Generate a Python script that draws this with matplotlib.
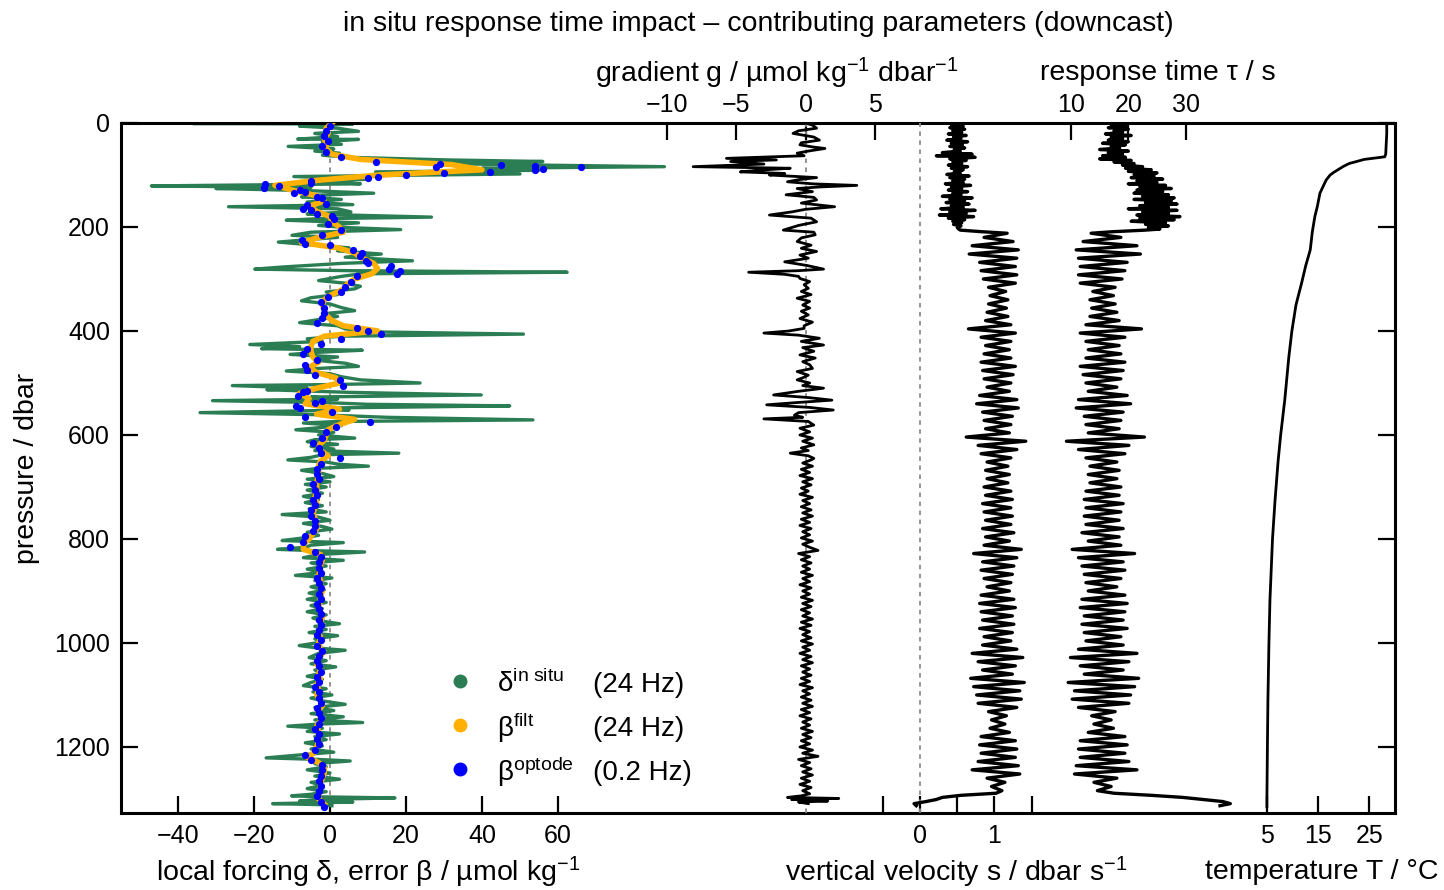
import numpy as np
import matplotlib
matplotlib.use('Agg')
import matplotlib.pyplot as plt
from matplotlib.transforms import blended_transform_factory

plt.rcParams['font.family'] = ['Liberation Sans', 'DejaVu Sans']
plt.rcParams['mathtext.fontset'] = 'custom'
plt.rcParams['mathtext.rm'] = 'Liberation Sans'
plt.rcParams['mathtext.it'] = 'Liberation Sans'
plt.rcParams['font.size'] = 18

LABEL_FS = 20.5
TICK_FS = 18

# ---- local forcing delta (24 Hz), (pressure, value) ----
delta_insitu = [
    (0, 0), (1, -36), (2, 6), (4, -3), (6, -8), (10, 2), (16, 7.5), (20, -4), (26, 2),
    (31, -8.5), (31.5, 7.5), (36, -2), (41, 3), (45, -11), (50, 1), (54, -4), (58, 2.5),
    (62, -2), (66, 5), (68, 15), (71, 31), (74, 56), (77, 25), (80, 45), (84, 88), (87, 40),
    (91, 55), (94, 12), (98, 50), (103, -9.5), (108, 10), (113, -2), (117, 8), (121, -47),
    (124, -5), (126, -30), (130, -6), (135, 11.5), (139, -4), (142, -7.5), (147, 3),
    (152, -6), (157, 6), (161, -26.7), (165, 2), (171, 5.5), (175, -6), (181, 26.7),
    (184, -3), (187, -11.5), (192, 7.5), (197, -3), (201, 4), (205, 18.6), (210, -5),
    (216, -10), (220, 2), (225, -7), (229, -13.6), (235, -4), (240, 5), (246, 2),
    (252, 13.5), (258, 4), (265, 21.7), (270, 3), (277, -12.6), (281, -19.8), (284, 5),
    (287, 62.4), (290, 8), (295, 3), (303, -3), (308, 4), (314, 8), (319, 6.5), (325, -1),
    (330, 2), (336, -5), (342, -7.5), (348, 0), (355, 3), (361, 6.5), (367, -2), (372, 2),
    (378, -3), (384, -8), (390, 2), (396, 4), (402, 14), (406, 50.9), (410, 3), (415, -6),
    (420, -2), (426, -21.1), (430, -8), (434, -18), (437, 8.5), (441, -3), (445, -10.5),
    (450, 2), (456, -4), (462, 4), (468, 7.5), (472, -3), (477, -11.5), (482, 0), (488, 3),
    (494, 8), (500, 23.7), (503, 0), (505, -25.7), (510, -6), (513, -16.6), (518, 5),
    (523, 39.8), (527, -5), (531, 2), (534, -30.9), (538, 0), (541, 10), (544, 47.3),
    (548, 0), (552, 5), (557, -34.2), (561, -3), (566, 15), (571, 53.4), (574, 2),
    (577, -7), (582, 3), (586, -3), (590, -9), (595, 1), (600, -3), (606, 6.5), (609, -4),
    (613, -6), (618, 2), (622, -5), (627, 1), (630, -4), (635, 18.1), (638, -2), (643, -5),
    (648, -11.1), (652, -1), (656, 2), (660, 10.1), (664, -3), (668, -7.5), (674, -2),
    (680, 1), (685, -6), (690, 0), (695, -6.5), (700, -1), (706, -6), (712, -2), (718, -7),
    (724, -3), (730, -6.5), (736, -2), (742, -5.5), (748, -1), (753, -12.6), (758, -3),
    (764, 0), (770, -7), (776, -2), (781, 0.5), (787, -6), (793, -3), (798, -7),
    (803, -12.6), (807, 3.5), (812, -5), (816, -6.5), (820, -13.8), (823, -2), (825, 9.1),
    (830, -3), (836, -7), (841, 3.5), (846, -5), (852, -1), (858, -6), (864, -2),
    (870, -9.1), (875, 0.5), (880, -4), (886, -1), (892, -5), (898, -1.5), (904, -5.5),
    (910, -2), (916, -6), (922, -1), (928, -5), (934, -2), (940, -6), (946, -1),
    (952, -4.5), (958, -2), (963, 2.5), (968, -4), (974, -1), (980, -5.5), (986, 2),
    (992, -4), (998, -2), (1005, -8.1), (1010, -3), (1014, 4), (1020, -3), (1028, -5.5),
    (1034, -1), (1040, -5), (1046, 1.5), (1052, -4), (1058, -2), (1064, -6), (1070, -2),
    (1076, -5), (1082, -7), (1088, -1), (1094, -4.5), (1100, 0.5), (1106, -5),
    (1112, -1.5), (1118, 4), (1124, -4), (1130, 1), (1136, -5), (1142, 3.5), (1148, -4),
    (1153, 8.6), (1156, -3), (1160, -11.1), (1164, -2), (1170, -6), (1175, 2.5),
    (1180, -4), (1186, -1), (1192, -6.5), (1198, -2), (1204, -5), (1210, 1), (1216, -9),
    (1221, -16.8), (1224, -3), (1227, 5.3), (1232, -4), (1238, -1), (1244, -6), (1250, 0),
    (1256, -4), (1262, 2.5), (1268, -5), (1274, -2), (1280, -6), (1286, -1), (1291, -5),
    (1294, -10.1), (1296, -2), (1298, 17.1), (1301, -3), (1304, -8), (1306, 6),
    (1309, -15.1), (1311, -2), (1313, 0.5),
]

# ---- filtered error beta (24 Hz), every 10 dbar from 0 ----
beta_filt = [
    0.5, -1, -0.5, -1.5, -1, -1, 0.5, 8, 32, 40,
    13, -3, -14.5, -9.5, -3.5, -1.5, -5.5, -3.5, 0, 0.5,
    2.5, 3.5, -3, -7.5, 2, 6.5, 8.5, 11.5, 12.5, 11,
    6.5, 4.5, 3.5, 0.5, -1.5, -2, -1.5, -1, 0.5, 3.5,
    12.5, -1.5, -4.5, -5, -5, -4.5, -3, -5.5, -3.5, 1.5,
    2.5, -3.5, -8, -5.5, -6.5, 2.5, -3.5, 6.5, 2.5, -0.5,
    -1, -1.5, -3, -2.5, -0.5, -2.5, -3, -3, -3, -3.5,
    -3.5, -3.5, -4, -3.5, -4, -4.5, -4, -3.5, -3.5, -4.5,
    -5.5, -7, -7, -2.5, -2, -2.5, -2.5, -3, -2.5, -2.5,
    -2, -2.5, -2.5, -3, -2.5, -2, -2.5, -2.5, -3, -2.5,
    -3, -2.5, -2, -3, -3.5, -2.5, -3, -2.5, -3.5, -3,
    -3.5, -2.5, -2, -3, -2.5, -2.5, -3.5, -3, -3, -3,
    -3.5, -4, -6, -3, -1.5, -1.5, -2, -2.5, -2.5, -3,
    -3, -1.5,
]

# ---- optode error beta (0.2 Hz), every 10 dbar from 5 ----
beta_optode = [
    0, -1, -1.5, -0.5, -2, -1, 3, 12, 28, 42,
    10, -5, -17.5, -9.5, -2, -1, -7, -3.5, 1, -0.5,
    3, -2, -7.5, 0, 6, 8, 9.5, 16, 18.5, 7,
    5.5, 4, 3, -0.5, -2.5, -1.5, -1.5, -2, -3.5, 7,
    13.5, 3, -2.5, -6, -7, -3.5, -6.5, -6, -4, 2.5,
    3.5, -6, -8.5, -2, -9, 0.5, -6.5, 10.5, 1.5, -1,
    -2, -4.5, -3, -2.5, 2.5, -2.5, -3.5, -3.5, -3, -4.5,
    -4, -3.5, -4.5, -4, -5, -5, -4, -4, -4.5, -6.5,
    -7, -10.5, -4, -2.5, -3, -3, -2.5, -3.5, -3, -2.5,
    -3, -2.5, -3.5, -3, -2.5, -3, -2.5, -3, -3.5, -2.5,
    -3.5, -2, -3, -3.5, -3, -2.5, -3.5, -3, -4, -3,
    -3, -2.5, -3.5, -3, -2.5, -3, -4, -3, -3.5, -3,
    -4, -6.5, -5, -2, -2, -2.5, -3, -2.5, -3, -3.5,
    -2.5, -1.5,
]
beta_optode_extra = [
    (78, 29), (81, 45), (83, 54), (85, 66), (88, 56), (91, 54), (97, 30), (100, 20),
    (103, 12.5), (112, -5), (118, -17), (122, -13.5), (128, -8), (133, -6.5),
    (143, -3.5), (158, -6), (168, -5), (178, 0.5), (232, -6.5), (250, 8.5), (270, 10),
    (280, 15.5), (290, 17.5), (400, 10), (518, -7), (538, -4), (548, -8),
]

# ---- oxygen gradient g ----
grad_upper = [
    (0, 0), (4, 0.5), (10, 0.8), (15, -0.5), (20, -0.9), (27, 0.6), (33, 1.0), (38, -0.3),
    (42, -0.4), (46, 0.5), (49, 1.4), (54, 0.2), (58, -0.6), (63, -0.1), (68, -5.7),
    (71, -2.1), (74, -5.4), (79, -3.0), (84, -8.1), (87, -1.1), (91, -3.5), (94, -4.7),
    (97, -1.5), (100, -2.6), (105, 0.8), (109, -0.5), (113, -1.3), (117, 0.5), (120, 3.7),
    (123, 1.0), (126, -0.6), (132, 0.5), (138, -1.4), (143, 0.6), (148, 0.8), (154, -0.3),
    (161, 2.1), (166, 0.0), (171, -1.0), (177, -2.6), (183, 0.4), (190, 0.8), (197, -0.5),
    (206, -1.6), (210, 0.6), (215, 0.7), (221, -0.3), (228, -0.6), (235, 0.4), (241, -0.3),
    (247, 0.8), (254, -0.4), (260, 0.2), (267, -1.5), (274, 0.1), (281, 1.3), (284, -0.5),
    (287, -4.1), (291, -1.5), (295, -0.5), (299, -0.4), (305, 0.3), (311, -0.1), (318, 0.2),
    (324, -0.3), (330, 0.4), (337, -0.6), (343, 0.3), (350, -0.2), (356, 0.3), (362, -0.3),
    (369, 0.2), (376, -0.4), (383, 0.5), (390, -0.1), (395, -0.1), (400, -1.2), (404, -3.0),
    (408, -0.5), (414, 1.0), (420, -0.3), (427, 1.3), (432, -0.2), (439, 0.6), (446, -0.4),
    (452, 0.7), (459, -0.2), (465, 0.3), (472, 0.5), (478, -0.6), (485, 0.2), (490, -0.2),
    (494, -0.6), (500, 0.3), (505, -0.2), (510, 1.3), (516, -0.5), (523, -2.3), (528, 0.2),
    (533, 1.9), (538, -0.8), (542, -2.8), (547, 0.3), (552, 2.0), (557, -0.5), (562, -0.8),
    (566, -0.2), (569, -3.0), (574, 0.2), (581, 0.6), (587, -0.4), (594, 0.3), (600, -0.4),
    (606, 0.5), (612, -0.2), (619, 0.6), (625, -0.3), (630, 0.2), (635, -1.1), (640, 0.2),
    (645, 0.6),
]
# every 6 dbar from 648
grad_deep = [
    0.4, -0.2, 0.5, -0.3, 0.3, -0.4, 0.5, -0.2, 0.4, -0.3, 0.2, -0.4,
    0.5, -0.2, 0.3, -0.3, 0.4, -0.2, 0.5, -0.3, 0.3, -0.4, 0.4, -0.2,
    0.3, -0.3, 0.5, -0.2, 0.3, 0.9, -0.5, 0.3, -0.3, 0.4, -0.2, 0.3,
    -0.3, 0.5, -0.2, 0.3, -0.4, 0.4, -0.2, 0.3, -0.3, 0.5, -0.2, 0.4,
    -0.3, 0.3, -0.2, 0.5, -0.3, 0.4, -0.4, 0.3, -0.2, 0.4, -0.3, 0.5,
    -0.2, 0.3, -0.4, 0.4, -0.2, 0.5, -0.3, 0.3, -0.2, 0.4, -0.3, 0.3,
    -0.4, 0.5, -0.2, 0.3, -0.3, 0.4, -0.2, 0.5, -0.3, 0.3, -0.4, 0.4,
    -0.2, 0.3, -0.3, 0.5, -0.2, 0.4, -0.3, 0.3, -0.4, 0.5, -0.2, 0.9,
    -0.5, 0.3, -0.3, 0.4, -0.2, 0.5, -0.3, 0.3, -0.4, 0.4, -0.2, 0.3,
]
grad_bottom = [(1294, -0.3), (1297, -1.3), (1299, 2.4), (1301, -1.0), (1304, 1.6),
               (1306, -0.5), (1309, 0.2)]

# ---- vertical velocity s ----
# every 3 dbar from 0
speed_upper = [
    0.48, 0.42, 0.58, 0.40, 0.60, 0.44, 0.56, 0.38, 0.62, 0.45, 0.55, 0.36, 0.64, 0.42,
    0.57, 0.40, 0.60, 0.46, 0.54, 0.30, 0.70, 0.22, 0.74, 0.40, 0.62, 0.44, 0.56, 0.38,
    0.64, 0.42, 0.58, 0.46, 0.54, 0.36, 0.66, 0.40, 0.60, 0.44, 0.58, 0.34, 0.68, 0.42,
    0.56, 0.38, 0.64, 0.44, 0.55, 0.30, 0.70, 0.40, 0.60, 0.35, 0.66, 0.42, 0.58, 0.28,
    0.74, 0.40, 0.62, 0.26, 0.72, 0.38, 0.60, 0.44, 0.56, 0.45, 0.55, 0.50, 0.52,
]
# every 8 dbar from 212
speed_deep = [
    1.17, 0.86, 1.25, 0.70, 1.32, 0.66, 1.30, 0.80, 1.28, 0.82,
    1.30, 0.85, 1.28, 0.92, 1.15, 0.94, 1.18, 0.92, 1.16, 0.90,
    1.18, 0.88, 1.22, 0.65, 1.28, 0.82, 1.22, 0.88, 1.20, 0.86,
    1.22, 0.82, 1.28, 0.84, 1.25, 0.86, 1.22, 0.90, 1.20, 0.80,
    1.30, 0.76, 1.32, 0.84, 1.24, 0.86, 1.22, 0.88, 1.20, 0.62,
    1.42, 0.78, 1.30, 0.82, 1.22, 0.90, 1.18, 0.88, 1.20, 0.90,
    1.18, 0.86, 1.22, 0.88, 1.24, 0.84, 1.22, 0.86, 1.24, 0.88,
    1.22, 0.84, 1.26, 0.88, 1.20, 0.86, 1.36, 0.72, 1.30, 0.84,
    1.26, 0.82, 1.24, 0.86, 1.22, 0.90, 1.20, 0.82, 1.26, 0.80,
    1.28, 0.82, 1.24, 0.84, 1.26, 0.80, 1.24, 0.86, 1.22, 0.84,
    1.30, 0.70, 1.38, 0.78, 1.28, 0.84, 1.24, 0.68, 1.40, 0.72,
    1.34, 0.76, 1.36, 0.78, 1.30, 0.92, 1.16, 0.96, 1.14, 0.94,
    1.20, 0.82, 1.28, 0.80, 1.30, 0.82, 1.28, 0.78, 1.32, 0.70,
    1.34, 0.90, 1.14, 0.96, 1.10,
]
speed_joint = [(206, 0.54), (209, 0.82)]
speed_bottom = [(1289, 1.02), (1293, 0.55), (1297, 0.30), (1301, 0.22), (1305, 0.08),
                (1309, -0.08), (1313, -0.05)]

# ---- response time tau ----
tau_upper = [
    18.5, 17.0, 19.5, 16.5, 20.0, 17.5, 19.0, 16.0, 20.5, 17.0, 19.0,
    16.5, 20.0, 15.5, 19.5, 17.0, 18.5, 15.0, 20.0, 16.5, 19.0, 15.5,
    19.5, 15.0, 20.5, 17.5, 21.0, 19.0, 22.5, 19.5, 24.0, 20.0, 25.0,
    21.0, 24.5, 20.5, 26.0, 21.5, 25.0, 20.0, 26.5, 22.0, 27.5, 21.5,
    26.0, 21.0, 27.0, 22.5, 28.0, 21.0, 27.5, 23.0, 28.5, 22.0, 27.0,
    20.0, 28.5, 22.5, 27.0, 21.5, 29.0, 22.0, 28.0, 20.5, 26.5, 23.0,
    27.0, 23.5, 25.5,
]
tau_deep = [
    13.5, 18.7, 12.1, 21.5, 10.9, 22.1, 11.3, 19.8, 11.6, 19.4,
    11.3, 18.9, 11.6, 17.7, 13.8, 17.4, 13.3, 17.7, 13.6, 18.0,
    13.3, 18.4, 12.6, 22.3, 11.6, 19.4, 12.6, 18.4, 13.0, 18.7,
    12.6, 19.4, 11.6, 19.1, 12.1, 18.7, 12.6, 18.0, 13.0, 19.8,
    11.3, 20.4, 10.9, 19.1, 12.3, 18.7, 12.6, 18.4, 13.0, 22.8,
    9.2, 20.1, 11.3, 19.4, 12.6, 18.0, 13.3, 18.4, 13.0, 18.0,
    13.3, 18.7, 12.6, 18.4, 12.3, 19.1, 12.6, 18.7, 12.3, 18.4,
    12.6, 19.1, 11.9, 18.4, 13.0, 18.7, 10.2, 21.1, 11.3, 19.1,
    11.9, 19.4, 12.3, 18.7, 12.6, 18.0, 13.0, 19.4, 11.9, 19.8,
    11.6, 19.4, 12.3, 19.1, 11.9, 19.8, 12.3, 18.7, 12.6, 19.1,
    11.3, 21.5, 9.9, 20.1, 11.6, 19.1, 12.3, 21.8, 9.5, 21.1,
    10.6, 20.4, 10.2, 20.1, 11.3, 17.7, 13.6, 17.0, 14.0, 17.4,
    13.0, 19.4, 11.6, 19.8, 11.3, 19.4, 11.6, 20.1, 10.9, 21.5,
    10.6, 18.0, 14.0, 17.0, 14.6,
]
tau_joint = [(206, 23.0), (209, 17.4)]
tau_bottom = [(1289, 17.5), (1293, 24.0), (1297, 29.5), (1301, 33.0), (1305, 36.5),
              (1309, 37.8), (1313, 36.0)]

# ---- temperature T ----
temperature = [
    (0, 28.4), (20, 28.4), (40, 28.3), (60, 28.2), (65, 28.0), (70, 24.0), (78, 21.0),
    (84, 19.8), (95, 18.0), (100, 17.3), (110, 16.5), (135, 15.3), (160, 14.8),
    (180, 14.3), (210, 13.8), (244, 13.4), (275, 12.5), (308, 11.7), (350, 10.6),
    (400, 9.8), (450, 9.2), (533, 8.4), (600, 7.6), (650, 7.1), (725, 6.5), (800, 6.0),
    (917, 5.5), (1000, 5.3), (1110, 5.1), (1200, 5.0), (1302, 4.9), (1315, 4.9),
]

GREEN = '#2b7d53'
ORANGE = '#ffb000'
BLUE = '#0000ff'
GREY = '#8c8c8c'
P_MAX = 1327

def unzip(pairs):
    p, v = zip(*pairs)
    return np.array(v), np.array(p)

# pressure grids for the regularly sampled series
p_filt = 10.0 * np.arange(len(beta_filt))
p_optode = 5.0 + 10.0 * np.arange(len(beta_optode))
p_grad_deep = 648.0 + 6.0 * np.arange(len(grad_deep))
p_speed_upper = 3.0 * np.arange(len(speed_upper))
p_speed_deep = 212.0 + 8.0 * np.arange(len(speed_deep))

# all panels share one box; each overlay has its own x range
rect = [121 / 1444, 1 - 813 / 890, 1274 / 1444, 690 / 890]
fig = plt.figure(figsize=(14.44, 8.9), dpi=100)
ax = fig.add_axes(rect)
ax_g = fig.add_axes(rect, frameon=False)
ax_s = fig.add_axes(rect, frameon=False)
ax_t = fig.add_axes(rect, frameon=False)
ax_T = fig.add_axes(rect, frameon=False)

for a in (ax, ax_g, ax_s, ax_t, ax_T):
    a.set_ylim(P_MAX, 0)
    a.patch.set_visible(False)
    a.tick_params(direction='in', length=12, width=1.6, labelsize=TICK_FS)

ax.set_xlim(-55.0, 280.26)
ax_g.set_xlim(-49.35, 42.50)
ax_s.set_xlim(-10.725, 6.376)
ax_t.set_xlim(-155.8, 66.54)
ax_T.set_xlim(-219.8, 30.02)

for sp in ax.spines.values():
    sp.set_linewidth(2.2)

# delta / beta panel
ax.axvline(0, color=GREY, ls=(0, (2.5, 2.5)), lw=1.3, zorder=1)
dv, dp = unzip(delta_insitu)
ax.plot(dv, dp, color=GREEN, lw=2.4, zorder=2)
ax.plot(beta_filt, p_filt, color=ORANGE, lw=4.0, zorder=3)
ev, ep = unzip(beta_optode_extra)
ax.plot(np.concatenate([beta_optode, ev]), np.concatenate([p_optode, ep]),
        ls='none', marker='o', ms=4.2, mfc=BLUE, mec=BLUE, zorder=4)

ax.set_xticks([-40, -20, 0, 20, 40, 60])
ax.set_yticks(range(0, 1201, 200))
ax.tick_params(axis='x', pad=8)
ax.tick_params(axis='y', pad=8, right=True)
ax.set_ylabel('pressure / dbar', fontsize=LABEL_FS)
ax.yaxis.set_label_coords(-0.0636, 0.5)

# gradient panel
ax_g.axvline(0, color=GREY, ls=(0, (2.5, 2.5)), lw=1.3)
gv, gp = unzip(grad_upper)
bv, bp = unzip(grad_bottom)
ax_g.plot(np.concatenate([gv, grad_deep, bv]), np.concatenate([gp, p_grad_deep, bp]),
          color='k', lw=2.0)
ax_g.xaxis.tick_top()
ax_g.set_xticks([-10, -5, 0, 5])
ax_g.set_yticks([])
ax_g.tick_params(axis='x', pad=4)

# vertical velocity panel
ax_s.axvline(0, color=GREY, ls=(0, (2.5, 2.5)), lw=1.3)
jv, jp = unzip(speed_joint)
bv, bp = unzip(speed_bottom)
ax_s.plot(np.concatenate([speed_upper, jv, speed_deep, bv]),
          np.concatenate([p_speed_upper, jp, p_speed_deep, bp]), color='k', lw=2.4)
ax_s.set_xticks([-0.5, 0, 0.5, 1, 1.5])
ax_s.set_xticklabels(['', '0', '', '1', ''])
ax_s.set_yticks([])
ax_s.tick_params(axis='x', pad=8)

# response time panel
jv, jp = unzip(tau_joint)
bv, bp = unzip(tau_bottom)
ax_t.plot(np.concatenate([tau_upper, jv, tau_deep, bv]),
          np.concatenate([p_speed_upper, jp, p_speed_deep, bp]), color='k', lw=2.4)
ax_t.xaxis.tick_top()
ax_t.set_xticks([10, 20, 30])
ax_t.set_yticks([])
ax_t.tick_params(axis='x', pad=4)

# temperature panel
tv, tp = unzip(temperature)
ax_T.plot(tv, tp, color='k', lw=2.0)
ax_T.set_xticks([5, 15, 25])
ax_T.set_yticks([])
ax_T.tick_params(axis='x', pad=8)

# axis titles, placed under / above each panel
y_bot, y_top = -0.0855, 1.0725
for a, x, s, y in [
        (ax, 10, 'local forcing δ, error β / µmol kg$^{-1}$', y_bot),
        (ax_s, 0.48, 'vertical velocity s / dbar s$^{-1}$', y_bot),
        (ax_T, 15.7, 'temperature T / °C', y_bot),
        (ax_g, -2.06, 'gradient g / µmol kg$^{-1}$ dbar$^{-1}$', y_top),
        (ax_t, 25.2, 'response time τ / s', y_top)]:
    a.text(x, y, s, transform=blended_transform_factory(a.transData, a.transAxes),
           ha='center', va='center', fontsize=LABEL_FS)

ax.text(0.5, 1.143, 'in situ response time impact \u2013 contributing parameters (downcast)',
        transform=ax.transAxes, ha='center', va='center', fontsize=LABEL_FS)

# legend
entries = [(GREEN, 'δ$^{\\mathrm{in\\ situ}}$', '(24 Hz)'),
           (ORANGE, 'β$^{\\mathrm{filt}}$', '(24 Hz)'),
           (BLUE, 'β$^{\\mathrm{optode}}$', '(0.2 Hz)')]
for i, (c, name, rate) in enumerate(entries):
    yy = 0.191 - i * 0.0636
    ax.plot([0.266], [yy], marker='o', ms=9, color=c, transform=ax.transAxes,
            clip_on=False, zorder=5)
    ax.text(0.295, yy - 0.004, name, transform=ax.transAxes, ha='left', va='center',
            fontsize=20)
    ax.text(0.3705, yy - 0.006, rate, transform=ax.transAxes, ha='left', va='center',
            fontsize=20)

fig.savefig('out.png', dpi=100)
